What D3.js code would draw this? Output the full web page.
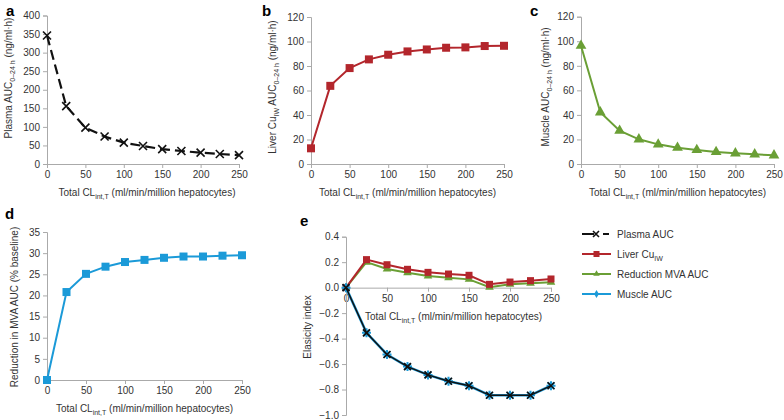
<!DOCTYPE html>
<html><head><meta charset="utf-8">
<script src="https://cdn.jsdelivr.net/npm/d3@7"></script>
<style>
body{margin:0;background:#fff;}
svg{font-family:"Liberation Sans",Arial,sans-serif;}
.tick text{font-size:10px;fill:#333;}
.domain,.tick line{stroke:#aaa;}
</style></head>
<body><svg id="c" width="784" height="420"></svg>
<script>
const clint = [0,25,50,75,100,125,150,175,200,225,250];
const xTicks = [0,50,100,150,200,250];
const plasmaAUC = [346,156,98,74,57.5,48.5,40,35,30.5,27,24];
const liverAUC = [12.8,63.8,78.3,85.4,89.2,91.9,93.5,94.9,95.2,96.3,96.5];
const muscleAUC = [96.4,42.1,27.2,20.1,16,13.3,11.4,9.8,8.7,7.9,7.1];
const mvaReduction = [0,20.8,25.1,26.8,27.9,28.4,28.9,29.2,29.2,29.4,29.5];
const elPlasma = [0,-0.355,-0.525,-0.62,-0.685,-0.735,-0.77,-0.845,-0.845,-0.845,-0.77];
const elMuscle = [0,-0.355,-0.525,-0.62,-0.685,-0.735,-0.77,-0.845,-0.845,-0.845,-0.77];
const elLiver = [0,0.22,0.18,0.144,0.12,0.107,0.097,0.026,0.044,0.055,0.068];
const elMVA = [0,0.20,0.146,0.117,0.091,0.078,0.065,0.003,0.026,0.034,0.042];
const legendLabels = ["Plasma AUC","Liver Cu","Reduction MVA AUC","Muscle AUC"];

const BLACK="#111", RED="#b3262c", GREEN="#6a9f35", BLUE="#1b9ad8";
const svg = d3.select("#c");

function marker(g, type, x, y, color, s){
  if(type==="x"){
    g.append("path").attr("d",`M${x-s/2},${y-s/2}L${x+s/2},${y+s/2}M${x-s/2},${y+s/2}L${x+s/2},${y-s/2}`)
     .attr("stroke",color).attr("stroke-width",1.6).attr("fill","none");
  } else if(type==="sq"){
    g.append("rect").attr("x",x-s/2).attr("y",y-s/2).attr("width",s).attr("height",s).attr("fill",color);
  } else if(type==="tri"){
    g.append("path").attr("d",d3.symbol(d3.symbolTriangle, s*s*0.5)()).attr("transform",`translate(${x},${y})`).attr("fill",color);
  } else if(type==="star"){
    const h=s/2;
    g.append("path").attr("d",`M${x-h},${y}L${x+h},${y}M${x},${y-h}L${x},${y+h}M${x-h*0.7},${y-h*0.7}L${x+h*0.7},${y+h*0.7}M${x-h*0.7},${y+h*0.7}L${x+h*0.7},${y-h*0.7}`)
     .attr("stroke",color).attr("stroke-width",2).attr("fill","none");
  } else if(type==="dia"){
    g.append("path").attr("d",d3.symbol(d3.symbolDiamond, s*s*0.4)()).attr("transform",`translate(${x},${y})`).attr("fill",color);
  }
}

function series(g, x, y, vals, color, mtype, ms, dash, lw){
  const line = d3.line().x((d,i)=>x(clint[i])).y(d=>y(d));
  g.append("path").datum(vals).attr("d",line).attr("fill","none").attr("stroke",color)
   .attr("stroke-width",lw||2).attr("stroke-dasharray",dash||null);
  vals.forEach((v,i)=>marker(g,mtype,x(clint[i]),y(v),color,ms));
}

function sublabel(t, main, sub, rest){
  t.append("tspan").text(main);
  t.append("tspan").text(sub).attr("font-size",7).attr("dy",3);
  t.append("tspan").text(rest).attr("dy",-3);
}

function panel(o){
  const g = svg.append("g");
  const x = d3.scaleLinear().domain([0,250]).range([o.x0,o.x1]);
  const y = d3.scaleLinear().domain(o.yd).range([o.y0,o.y1]);
  g.append("g").attr("transform",`translate(0,${o.y0})`)
   .call(d3.axisBottom(x).tickValues(xTicks).tickSize(4).tickPadding(3));
  g.append("g").attr("transform",`translate(${o.x0},0)`)
   .call(d3.axisLeft(y).tickValues(o.yt).tickSize(4).tickPadding(3));
  g.selectAll(".domain").attr("stroke","#aaa");
  const xt = g.append("text").attr("x",(o.x0+o.x1)/2+o.xtdx).attr("y",o.y0+32)
    .attr("text-anchor","middle").attr("font-size",10).attr("fill","#333");
  sublabel(xt,"Total CL","int,T"," (ml/min/million hepatocytes)");
  const yt = g.append("text").attr("transform",`translate(${o.ytx},${o.yty}) rotate(-90)`)
    .attr("text-anchor","middle").attr("font-size",10).attr("fill","#333");
  o.ytitle(yt);
  g.append("text").attr("x",o.lx).attr("y",o.ly).text(o.letter).attr("font-weight","bold").attr("font-size",15);
  o.draw(g,x,y);
}

panel({x0:47,x1:239,y0:164,y1:15.5,yd:[0,400],yt:d3.range(0,401,50),xtdx:4,ytx:12,yty:78,
  letter:"a",lx:6,ly:16,
  ytitle:t=>sublabel(t,"Plasma AUC","0–24 h"," (ng/ml·h)"),
  draw:(g,x,y)=>series(g,x,y,plasmaAUC,BLACK,"x",8,"10,5",2.2)});
panel({x0:311,x1:504,y0:164,y1:17,yd:[0,120],yt:d3.range(0,121,20),xtdx:0,ytx:276,yty:87,
  letter:"b",lx:262,ly:16,
  ytitle:t=>{t.append("tspan").text("Liver Cu");t.append("tspan").text("IW").attr("font-size",7).attr("dy",3);
    t.append("tspan").text(" AUC").attr("dy",-3);t.append("tspan").text("0–24 h").attr("font-size",7).attr("dy",3);
    t.append("tspan").text(" (ng/ml·h)").attr("dy",-3);},
  draw:(g,x,y)=>series(g,x,y,liverAUC,RED,"sq",8)});
panel({x0:581,x1:774,y0:164,y1:16.7,yd:[0,120],yt:d3.range(0,121,20),xtdx:0,ytx:549,yty:87,
  letter:"c",lx:530,ly:16,
  ytitle:t=>sublabel(t,"Muscle AUC","0–24 h"," (ng/ml·h)"),
  draw:(g,x,y)=>series(g,x,y,muscleAUC,GREEN,"tri",10)});
panel({x0:47,x1:242,y0:380,y1:232,yd:[0,35],yt:d3.range(0,36,5),xtdx:0,ytx:18,yty:307,
  letter:"d",lx:5,ly:219,
  ytitle:t=>t.text("Reduction in MVA AUC (% baseline)"),
  draw:(g,x,y)=>series(g,x,y,mvaReduction,BLUE,"sq",8)});

// panel e
(function(){
  const g = svg.append("g");
  const x = d3.scaleLinear().domain([0,250]).range([346,551]);
  const y = d3.scaleLinear().domain([-1.0,0.4]).range([415,236.7]);
  g.append("g").attr("transform",`translate(0,${y(0)})`)
   .call(d3.axisBottom(x).tickValues(xTicks).tickSize(4).tickPadding(3));
  g.append("g").attr("transform",`translate(346,0)`)
   .call(d3.axisLeft(y).tickValues(d3.range(-10,5,2).map(v=>v/10)).tickSize(4).tickPadding(3)
     .tickFormat(d3.format(".1f")));
  g.selectAll(".tick text").text(function(){return d3.select(this).text().replace("-","−");});
  const xt = g.append("text").attr("x",365).attr("y",320).attr("font-size",10).attr("fill","#333");
  sublabel(xt,"Total CL","int,T"," (ml/min/million hepatocytes)");
  g.append("text").attr("transform","translate(311,327) rotate(-90)").attr("text-anchor","middle")
   .attr("font-size",10).attr("fill","#333").text("Elasicity index");
  g.append("text").attr("x",300).attr("y",226).text("e").attr("font-weight","bold").attr("font-size",15);
  series(g,x,y,elMVA,GREEN,"tri",8);
  series(g,x,y,elLiver,RED,"sq",7);
  series(g,x,y,elMuscle,BLUE,"star",9,null,2.6);
  series(g,x,y,elPlasma,BLACK,"x",7,null,1.4);

  // legend
  const lg = svg.append("g");
  const ly = [234,254,274,294];
  const cols = [BLACK,RED,GREEN,BLUE];
  const mk = ["x","sq","tri","dia"];
  ly.forEach((yy,i)=>{
    if(i===0){
      lg.append("line").attr("x1",582).attr("x2",594).attr("y1",yy).attr("y2",yy).attr("stroke",BLACK).attr("stroke-width",2);
      lg.append("line").attr("x1",603).attr("x2",609).attr("y1",yy).attr("y2",yy).attr("stroke",BLACK).attr("stroke-width",2);
      marker(lg,"x",596,yy,BLACK,6);
    } else {
      lg.append("line").attr("x1",582).attr("x2",611).attr("y1",yy).attr("y2",yy).attr("stroke",cols[i]).attr("stroke-width",2);
      marker(lg,mk[i],596.5,yy,cols[i],i===3?7:6);
    }
    const t = lg.append("text").attr("x",617).attr("y",yy+3.5).attr("font-size",10).attr("fill","#333");
    if(i===1){t.append("tspan").text(legendLabels[i]);t.append("tspan").text("IW").attr("font-size",7).attr("dy",3);}
    else t.text(legendLabels[i]);
  });
})();
</script></body></html>
